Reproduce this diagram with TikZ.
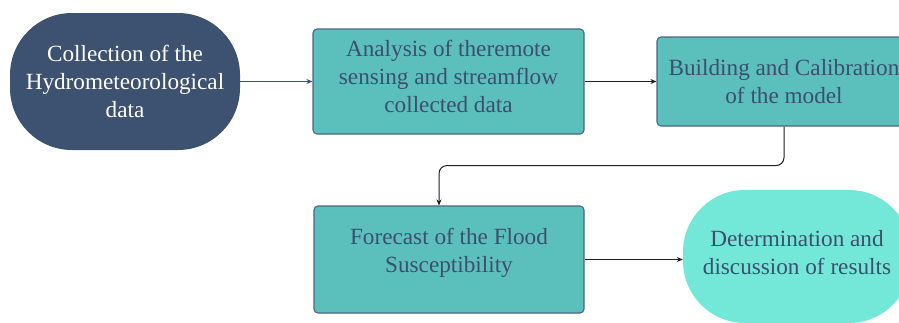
\documentclass[tikz,border=0pt]{standalone}
\usepackage{fontspec}
\newfontfamily\diagfont{Liberation Serif}
\usetikzlibrary{arrows.meta,positioning}
\definecolor{darknode}{HTML}{3D5170}
\definecolor{tealbox}{HTML}{5BBFBC}
\definecolor{tealborder}{HTML}{4D6585}
\definecolor{lightcyan}{HTML}{74E8D8}
\definecolor{boxtext}{HTML}{3D4F6E}
\definecolor{arrowdark}{HTML}{3D5170}
\definecolor{arrowblack}{HTML}{1E1E1E}
\tikzset{
  txt/.style={font=\diagfont\fontsize{23.2}{28}\selectfont, align=center, inner sep=0pt},
  stadiumdark/.style={fill=darknode, rounded corners=62pt, minimum width=230pt, minimum height=137pt, inner sep=0pt},
  stadiumlight/.style={fill=lightcyan, rounded corners=62pt, minimum width=228pt, minimum height=133pt, inner sep=0pt},
  procbox/.style={fill=tealbox, draw=tealborder, line width=1.1pt, rounded corners=4pt, inner sep=0pt},
  conn/.style={line width=1pt, -{Stealth[length=6pt,width=5pt]}},
}
\begin{document}
\begin{tikzpicture}[x=1pt,y=-1pt]
\clip (0,0) rectangle (899,322);
\fill[white] (0,0) rectangle (899,322);
\node[stadiumdark] (n1) at (125,81.5) {};
\node[txt, text=white] (n1t) at (125,81) {Collection of the\\Hydrometeorological\\data};
\node[procbox, minimum width=271pt, minimum height=105pt] (n2) at (448.5,81.5) {};
\node[txt, text=boxtext] (n2t) at (448.5,76) {Analysis of theremote\\sensing and streamflow\\collected data};
\node[procbox, minimum width=254pt, minimum height=89pt] (n3) at (784,81.5) {};
\node[txt, text=boxtext] (n3t) at (784,82) {Building and Calibration\\of the model};
\node[procbox, minimum width=270pt, minimum height=107pt] (n4) at (449,259.5) {};
\node[txt, text=boxtext] (n4t) at (449,253) {Forecast of the Flood\\Susceptibility};
\node[stadiumlight] (n5) at (797,256.5) {};
\node[txt, text=boxtext] (n5t) at (797,253) {Determination and\\discussion of results};
\draw[conn, color=arrowdark] (n1.east) -- (n2.west);
\draw[conn, color=arrowblack] (n2.east) -- (n3.west);
\draw[conn, color=arrowblack, rounded corners=8pt] (n3.south) -- ++(0,39) -| ([xshift=-10pt]n4.north);
\draw[conn, color=arrowblack] (n4.east) -- (n4.east -| n5.west);
\end{tikzpicture}
\end{document}
